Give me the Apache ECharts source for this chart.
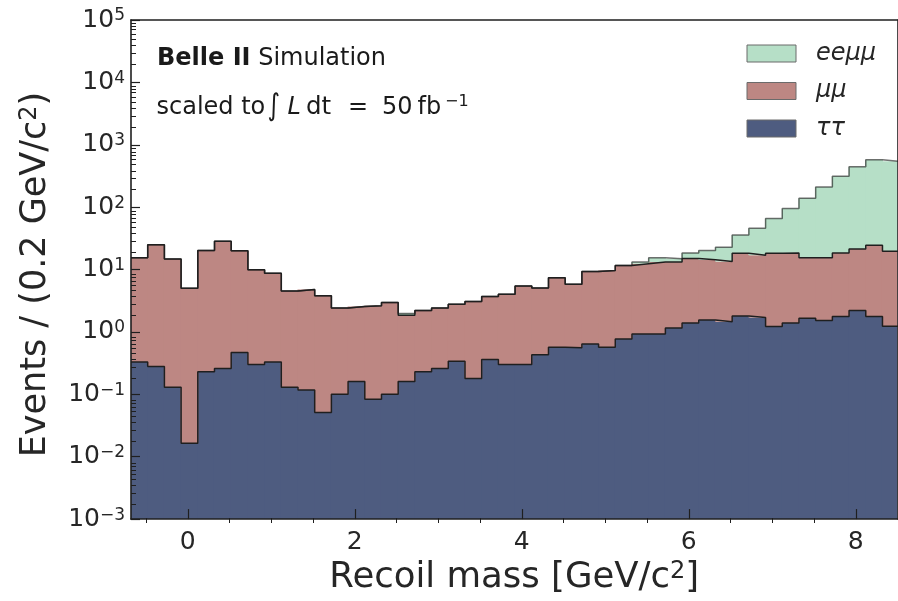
<!DOCTYPE html>
<html><head><meta charset="utf-8">
<script src="https://cdn.jsdelivr.net/npm/echarts@6/dist/echarts.min.js"></script>
<style>html,body{margin:0;padding:0;background:#fff}#c{width:898px;height:601px}</style>
</head><body><div id="c"></div>
<script>
// ---- data ----
const binEdges = [-0.68,-0.48,-0.28,-0.08,0.12,0.32,0.52,0.72,0.92,1.12,1.32,1.52,1.72,1.92,2.12,2.32,2.52,2.72,2.92,3.12,3.32,3.52,3.72,3.92,4.12,4.32,4.52,4.72,4.92,5.12,5.32,5.52,5.72,5.92,6.12,6.32,6.52,6.72,6.92,7.12,7.32,7.52,7.72,7.92,8.12,8.32,8.52];
const tautau = [0.33,0.28,0.13,0.0165,0.23,0.26,0.47,0.30,0.33,0.13,0.117,0.051,0.10,0.16,0.083,0.10,0.16,0.23,0.26,0.34,0.18,0.36,0.30,0.30,0.43,0.57,0.56,0.64,0.57,0.77,0.93,0.93,1.16,1.39,1.55,1.46,1.80,1.71,1.22,1.39,1.65,1.52,1.76,2.21,1.76,1.23];
const mumu = [15.1,24.8,14.6,4.98,19.9,28.1,19.6,9.6,8.4,4.42,4.68,3.75,2.31,2.40,2.55,2.86,1.69,1.98,2.15,2.45,2.90,3.33,3.72,5.17,4.65,6.84,5.23,8.69,9.11,10.8,11.5,12.3,12.0,13.6,12.8,12.0,16.5,15.3,17.1,17.1,13.8,13.9,16.7,19.2,22.7,18.5];
const eemumu = [0,0,0,0,0,0,0,0,0,0,0,0,0,0,0,0,0.13,0,0,0,0,0,0,0,0,0,0,0,0,0,0.8,2.2,1.8,3.5,5.8,9.3,17.5,28.7,47.6,76.6,123.3,194.3,295.5,421.6,553.5,523.3];
const seriesNames = ['eeμμ','μμ','ττ'];
const xTickLabels = [0,2,4,6,8];
const xMinorTicks = [-0.5,0.5,1,1.5,2.5,3,3.5,4.5,5,5.5,6.5,7,7.5];
const yTickValues = [1e-3,1e-2,1e-1,1,1e1,1e2,1e3,1e4,1e5];
const yMinorTicks = [];
for (let d = -3; d < 5; d++) for (let m = 2; m <= 9; m++) yMinorTicks.push(m * Math.pow(10, d));

const colors = {ee:'#b6dfc7', mm:'#bd8783', tt:'#4e5c80'};
const FONT = 'DejaVu Sans';
const INK = '#1f1f1f';
const TXT = '#1a1a1a';
const AXMIN = 1e-3;

// cumulative stacks
const cumT = tautau.slice();
const cumM = tautau.map((v,i)=>v+mumu[i]);
const cumE = cumM.map((v,i)=>v+eemumu[i]);

function rects(lo, hi){
  return hi.map((h,i)=>[binEdges[i], binEdges[i+1], lo ? lo[i] : AXMIN, h]);
}
function stepLine(cum){
  return binEdges.map((e,i)=>[e, cum[Math.min(i, cum.length-1)]]);
}
function makeRender(color){
  return function(params, api){
    const x0=api.value(0), x1=api.value(1), lo=api.value(2), hi=api.value(3);
    if (!(hi > lo)) return;
    const p0 = api.coord([x0, hi]);
    const p1 = api.coord([x1, lo]);
    const cs = params.coordSys;
    const r = echarts.graphic.clipRectByRect(
      {x:p0[0]-0.5, y:p0[1], width:p1[0]-p0[0]+1, height:p1[1]-p0[1]},
      {x:cs.x, y:cs.y, width:cs.width, height:cs.height});
    if (!r) return;
    return {type:'rect', shape:r, style:{fill:color, stroke:null}};
  };
}

const chart = echarts.init(document.getElementById('c'), null, {renderer:'canvas'});
const G = {left:131, top:20, right:0.5, bottom:78, containLabel:false};
const lineStyleAx = {color:INK, width:1.6};

function txt(x, y, text, size, extra){
  return {type:'text', x:x, y:y, z:20, silent:true,
    style:Object.assign({text:text, fontFamily:FONT, fontSize:size, fill:TXT, verticalAlign:'middle'}, extra||{})};
}

const option = {
  animation:false,
  backgroundColor:'#fff',
  textStyle:{fontFamily:FONT},
  grid:[Object.assign({}, G), Object.assign({}, G)],
  xAxis:[
    {gridIndex:0, type:'value', position:'bottom', min:-0.68, max:8.5, z:10,
     axisLine:{show:true, onZero:false, lineStyle:lineStyleAx},
     axisTick:{show:true, inside:true, length:10, lineStyle:{color:INK, width:1.2}, customValues:xTickLabels},
     axisLabel:{customValues:xTickLabels, fontSize:25, color:'#262626', fontFamily:FONT, margin:11},
     splitLine:{show:false},
     name:'{t|Recoil mass [GeV/c}{s|2}{t|]}', nameLocation:'middle', nameGap:38,
     nameTextStyle:{rich:{t:{fontSize:35.5, color:'#262626', fontFamily:FONT}, s:{fontSize:24, color:'#262626', fontFamily:FONT, verticalAlign:'top'}}}},
    {gridIndex:0, type:'value', position:'top', min:-0.68, max:8.5, z:10,
     axisLine:{show:true, onZero:false, lineStyle:lineStyleAx}, axisTick:{show:false}, axisLabel:{show:false}, splitLine:{show:false}},
    {gridIndex:1, type:'value', position:'bottom', min:-0.68, max:8.5, z:10,
     axisLine:{show:false, onZero:false}, axisTick:{show:true, inside:true, length:5, lineStyle:{color:INK, width:1}, customValues:xMinorTicks},
     axisLabel:{show:false}, splitLine:{show:false}}
  ],
  yAxis:[
    {gridIndex:0, type:'log', logBase:10, min:1e-3, max:1e5, position:'left', z:10,
     axisLine:{show:true, onZero:false, lineStyle:lineStyleAx},
     axisTick:{show:true, inside:true, length:9, lineStyle:{color:INK, width:1.2}, customValues:yTickValues},
     axisLabel:{customValues:yTickValues, margin:6,
       formatter:function(v){ const e = Math.round(Math.log10(v)); return '{b|10}{s|' + (e<0 ? '\u2212' + (-e) : e) + '}'; },
       rich:{b:{fontSize:25, color:'#262626', fontFamily:FONT}, s:{fontSize:17, color:'#262626', fontFamily:FONT, verticalAlign:'top'}}},
     splitLine:{show:false},
     name:'{t|Events / (0.2 GeV/c}{s|2}{t|)}', nameLocation:'middle', nameGap:78,
     nameTextStyle:{padding:[0,10,0,0], rich:{t:{fontSize:35, color:'#262626', fontFamily:FONT}, s:{fontSize:24, color:'#262626', fontFamily:FONT, verticalAlign:'top'}}}},
    {gridIndex:0, type:'log', logBase:10, min:1e-3, max:1e5, position:'right', z:10,
     axisLine:{show:true, onZero:false, lineStyle:lineStyleAx}, axisTick:{show:false}, axisLabel:{show:false}, splitLine:{show:false}},
    {gridIndex:1, type:'log', logBase:10, min:1e-3, max:1e5, position:'left', z:10,
     axisLine:{show:false, onZero:false}, axisTick:{show:true, inside:true, length:5, lineStyle:{color:INK, width:1}, customValues:yMinorTicks},
     axisLabel:{show:false}, splitLine:{show:false}}
  ],
  legend:{
    orient:'vertical', left:746.5, top:41.5, padding:0, itemWidth:49, itemHeight:17, itemGap:13.5,
    data:seriesNames, icon:'rect', selectedMode:false,
    itemStyle:{borderColor:'#6b6b6b', borderWidth:1},
    textStyle:{fontFamily:FONT, fontSize:24, fontStyle:'italic', color:'#262626', padding:[0,0,0,15]}
  },
  graphic:[
    txt(157, 59, '{b|Belle II}{n| Simulation}', 24, {rich:{b:{fontFamily:FONT, fontWeight:'bold', fontSize:24, fill:TXT}, n:{fontFamily:FONT, fontSize:24, fill:TXT}}}),
    txt(156.5, 108, 'scaled to', 24),
    {type:'text', x:267.5, y:107.5, z:20, silent:true, scaleX:0.8,
      style:{text:'\u222B', fontFamily:FONT, fontSize:30, fill:TXT, verticalAlign:'middle'}},
    txt(287.5, 108, 'L', 24, {fontStyle:'italic'}),
    txt(306, 108, 'dt', 24.5),
    txt(348, 108, '=', 24),
    txt(382, 108, '50', 24),
    txt(417.5, 108, 'fb', 24),
    txt(445, 102, '\u22121', 16)
  ],
  series:[
    {name:'ττ', type:'custom', xAxisIndex:0, yAxisIndex:0, itemStyle:{color:colors.tt}, renderItem:makeRender(colors.tt),
     encode:{x:[0,1], y:[2,3]}, data:rects(null, cumT), z:2, silent:true},
    {name:'μμ', type:'custom', xAxisIndex:0, yAxisIndex:0, itemStyle:{color:colors.mm}, renderItem:makeRender(colors.mm),
     encode:{x:[0,1], y:[2,3]}, data:rects(cumT, cumM), z:2, silent:true},
    {name:'eeμμ', type:'custom', xAxisIndex:0, yAxisIndex:0, itemStyle:{color:colors.ee}, renderItem:makeRender(colors.ee),
     encode:{x:[0,1], y:[2,3]}, data:rects(cumM, cumE), z:2, silent:true},
    {name:'outline-ee', type:'line', step:'end', xAxisIndex:0, yAxisIndex:0, data:stepLine(cumE), symbol:'none', z:3, silent:true,
     lineStyle:{color:'rgba(20,20,20,0.6)', width:1.5}},
    {name:'outline-mm', type:'line', step:'end', xAxisIndex:0, yAxisIndex:0, data:stepLine(cumM), symbol:'none', z:4, silent:true,
     lineStyle:{color:INK, width:1.5}},
    {name:'outline-tt', type:'line', step:'end', xAxisIndex:0, yAxisIndex:0, data:stepLine(cumT), symbol:'none', z:4, silent:true,
     lineStyle:{color:INK, width:1.5}}
  ]
};
chart.setOption(option);
</script>
</body></html>
